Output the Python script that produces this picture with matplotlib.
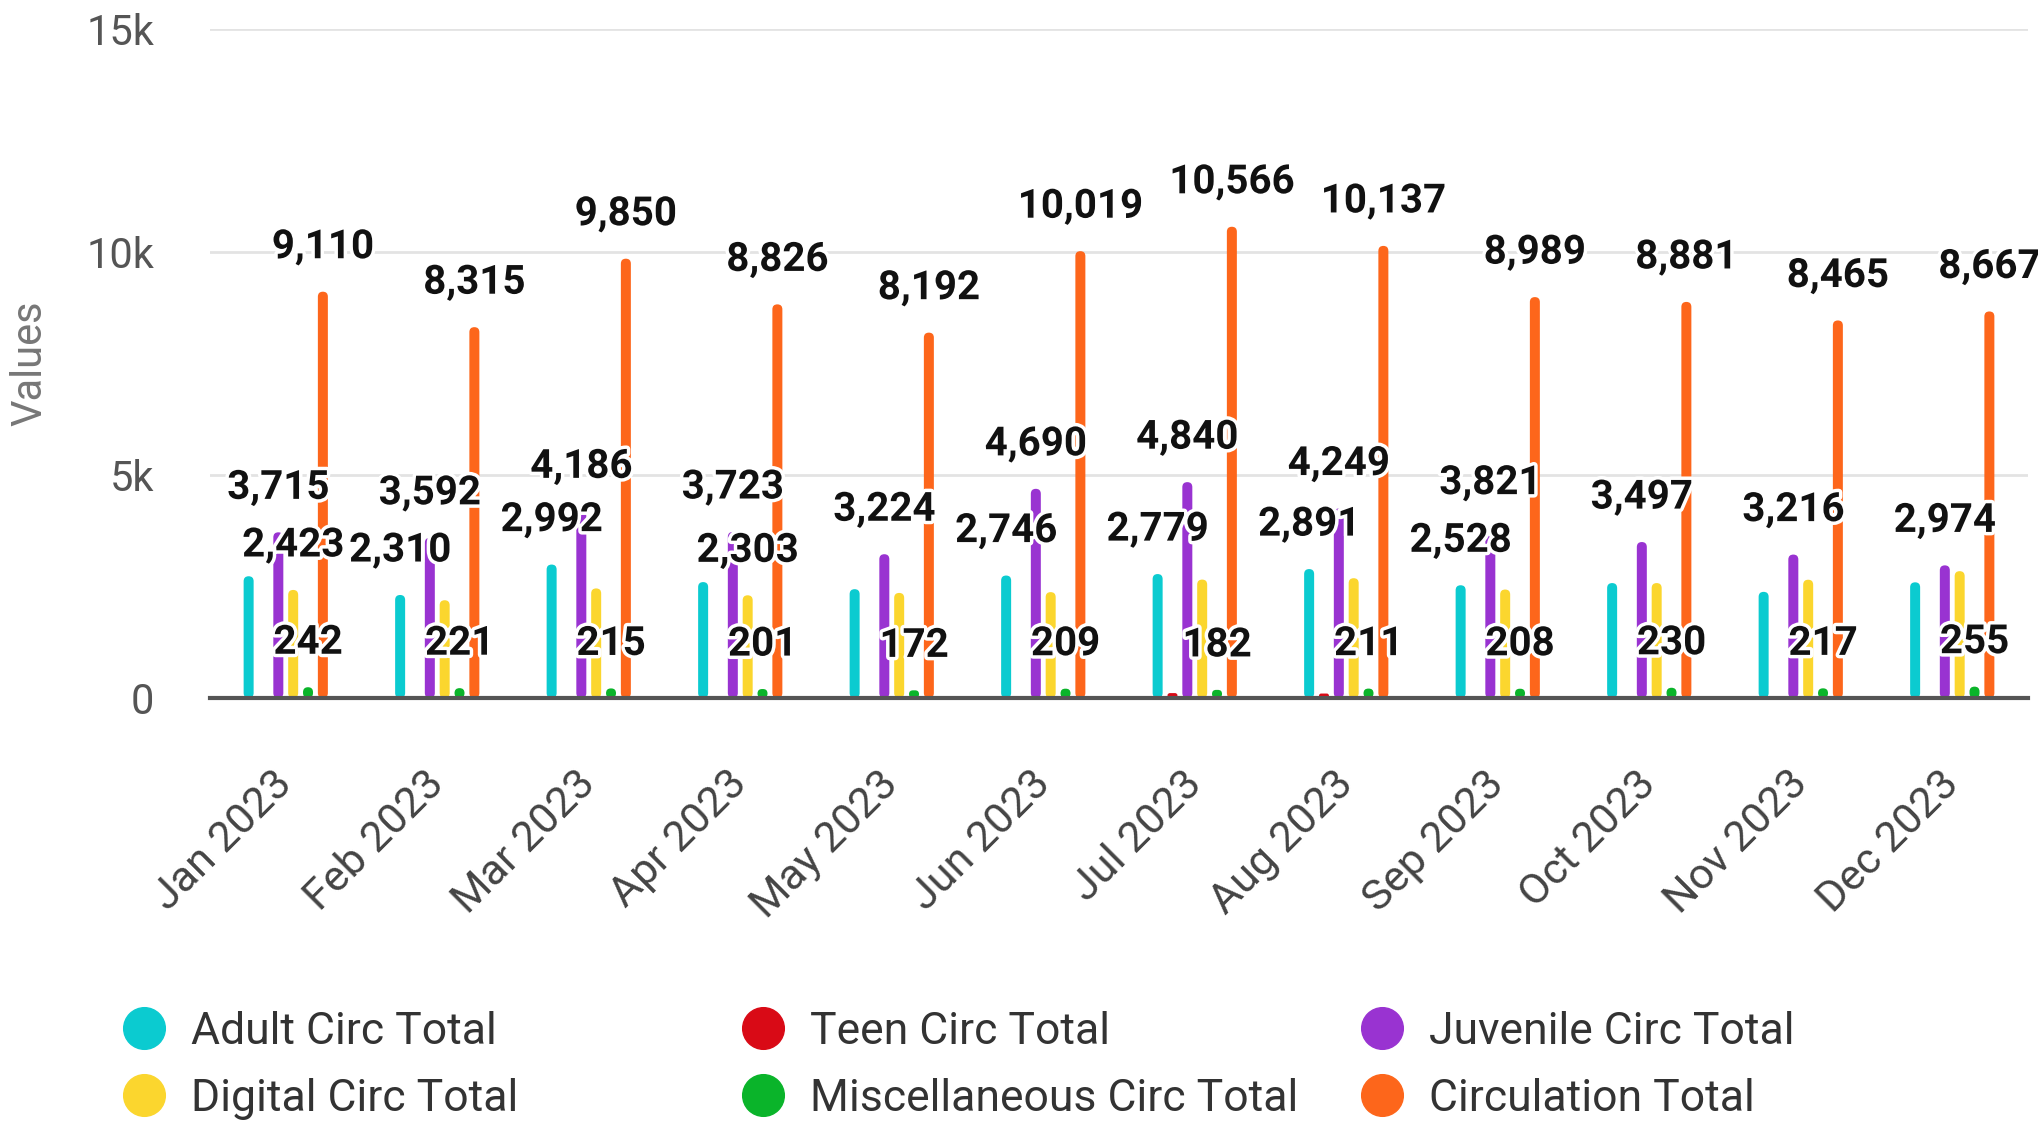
import matplotlib
matplotlib.use("Agg")
import matplotlib.pyplot as plt
import matplotlib.patheffects as pe
import matplotlib.transforms as mtransforms
from matplotlib.lines import Line2D
from matplotlib.patches import FancyBboxPatch, BoxStyle
import numpy as np

plt.rcParams['font.family'] = ['Roboto', 'DejaVu Sans']

months = ["Jan 2023", "Feb 2023", "Mar 2023", "Apr 2023", "May 2023", "Jun 2023",
          "Jul 2023", "Aug 2023", "Sep 2023", "Oct 2023", "Nov 2023", "Dec 2023"]

series_names = ["Adult Circ Total", "Teen Circ Total", "Juvenile Circ Total",
                "Digital Circ Total", "Miscellaneous Circ Total", "Circulation Total"]

adult = [2730, 2310, 2992, 2599, 2440, 2746, 2779, 2891, 2528, 2577, 2380, 2594]
teen = [0, 0, 0, 0, 0, 0, 110, 100, 0, 0, 0, 0]
juvenile = [3715, 3592, 4186, 3723, 3224, 4690, 4840, 4249, 3821, 3497, 3216, 2974]
digital = [2423, 2192, 2457, 2303, 2356, 2374, 2655, 2686, 2432, 2577, 2652, 2844]
misc = [242, 221, 215, 201, 172, 209, 182, 211, 208, 230, 217, 255]
circulation = [9110, 8315, 9850, 8826, 8192, 10019, 10566, 10137, 8989, 8881, 8465, 8667]

# which series' value labels are visible in each month (others hidden by overlap)
shown_labels = [
    ["Juvenile Circ Total", "Digital Circ Total", "Miscellaneous Circ Total", "Circulation Total"],
    ["Adult Circ Total", "Juvenile Circ Total", "Miscellaneous Circ Total", "Circulation Total"],
    ["Adult Circ Total", "Juvenile Circ Total", "Miscellaneous Circ Total", "Circulation Total"],
    ["Juvenile Circ Total", "Digital Circ Total", "Miscellaneous Circ Total", "Circulation Total"],
    ["Juvenile Circ Total", "Miscellaneous Circ Total", "Circulation Total"],
    ["Adult Circ Total", "Juvenile Circ Total", "Miscellaneous Circ Total", "Circulation Total"],
    ["Adult Circ Total", "Juvenile Circ Total", "Miscellaneous Circ Total", "Circulation Total"],
    ["Adult Circ Total", "Juvenile Circ Total", "Miscellaneous Circ Total", "Circulation Total"],
    ["Adult Circ Total", "Juvenile Circ Total", "Miscellaneous Circ Total", "Circulation Total"],
    ["Juvenile Circ Total", "Miscellaneous Circ Total", "Circulation Total"],
    ["Juvenile Circ Total", "Miscellaneous Circ Total", "Circulation Total"],
    ["Juvenile Circ Total", "Miscellaneous Circ Total", "Circulation Total"],
]

colors = ["#0bcbd0", "#d90a16", "#9933d1", "#fbd62e", "#0ab42a", "#fd661b"]
data = [adult, teen, juvenile, digital, misc, circulation]

W, H = 2038, 1123
fig = plt.figure(figsize=(W / 100, H / 100), dpi=100)
ax = fig.add_axes([210 / W, 1 - 698 / H, 1818 / W, (698 - 29) / H])
ax.set_xlim(-0.5, len(months) - 0.5)
ax.set_ylim(0, 15000)

x = np.arange(len(months))
step = 0.098
bw = 0.066
# aspect (data-y per data-x) so rounded tops look circular
px_per_x = 1818 / len(months)
px_per_y = (698 - 29) / 15000
aspect = px_per_x / px_per_y
r = bw / 2
for k, (name, vals, c) in enumerate(zip(series_names, data, colors)):
    xs = x + (k - 2.5) * step
    bars = ax.bar(xs, vals, width=bw, color=c, zorder=3)
    for rect in bars.patches:
        rect.set_visible(False)
        hgt = rect.get_height()
        if hgt <= 0:
            continue
        rs = min(r, hgt / aspect / 2)
        fb = FancyBboxPatch((rect.get_x(), rect.get_y()), rect.get_width(), hgt,
                            boxstyle=BoxStyle("Round", pad=0, rounding_size=rs),
                            mutation_aspect=aspect, facecolor=c, edgecolor="none",
                            zorder=3)
        ax.add_patch(fb)

halo = [pe.withStroke(linewidth=5, foreground="white")]
for i in range(len(months)):
    for k, (name, vals) in enumerate(zip(series_names, data)):
        if name in shown_labels[i]:
            xi = x[i] + (k - 2.5) * step
            ax.annotate(f"{vals[i]:,}", xy=(xi, vals[i]), xytext=(0, 32),
                        textcoords="offset points", ha="center", va="center",
                        fontsize=29, fontweight="bold", color="#111111",
                        path_effects=halo, zorder=5)

ax.set_yticks([0, 5000, 10000, 15000])
ax.set_yticklabels(["0", "5k", "10k", "15k"])
ax.yaxis.grid(True, color="#e3e3e3", linewidth=2, zorder=0)
ax.set_axisbelow(True)
for s in ["top", "right", "left"]:
    ax.spines[s].set_visible(False)
ax.spines["bottom"].set_color("#555555")
ax.spines["bottom"].set_linewidth(3)
ax.spines["bottom"].set_zorder(4)
ax.tick_params(axis="y", length=0, pad=40, labelsize=30, labelcolor="#555555")
ax.tick_params(axis="x", length=0, pad=47, labelsize=31, labelcolor="#444444")
ax.set_xticks(x)
ax.set_xticklabels(months, rotation=45, ha="right", rotation_mode="anchor")
shift = mtransforms.ScaledTranslation(-14 / 100, 0, fig.dpi_scale_trans)
for lbl in ax.get_xticklabels():
    lbl.set_transform(lbl.get_transform() + shift)
ax.set_ylabel("Values", fontsize=30, color="#777777", labelpad=26)

# legend: three columns of two entries each
cols = [[0, 3], [1, 4], [2, 5]]
col_x = [122 / W, 741 / W, 1360 / W]
for cx, idxs in zip(col_x, cols):
    handles = [Line2D([], [], linestyle="none", marker="o", markersize=30,
                      markerfacecolor=colors[j], markeredgecolor=colors[j])
               for j in idxs]
    labels = [series_names[j] for j in idxs]
    fig.legend(handles, labels, loc="upper left", bbox_to_anchor=(cx, 1 - 1011 / H),
               frameon=False, fontsize=32, labelcolor="#333333",
               handlelength=1.0, handletextpad=0.55, labelspacing=0.56,
               borderpad=0, borderaxespad=0)

fig.savefig("out.png", dpi=100)
